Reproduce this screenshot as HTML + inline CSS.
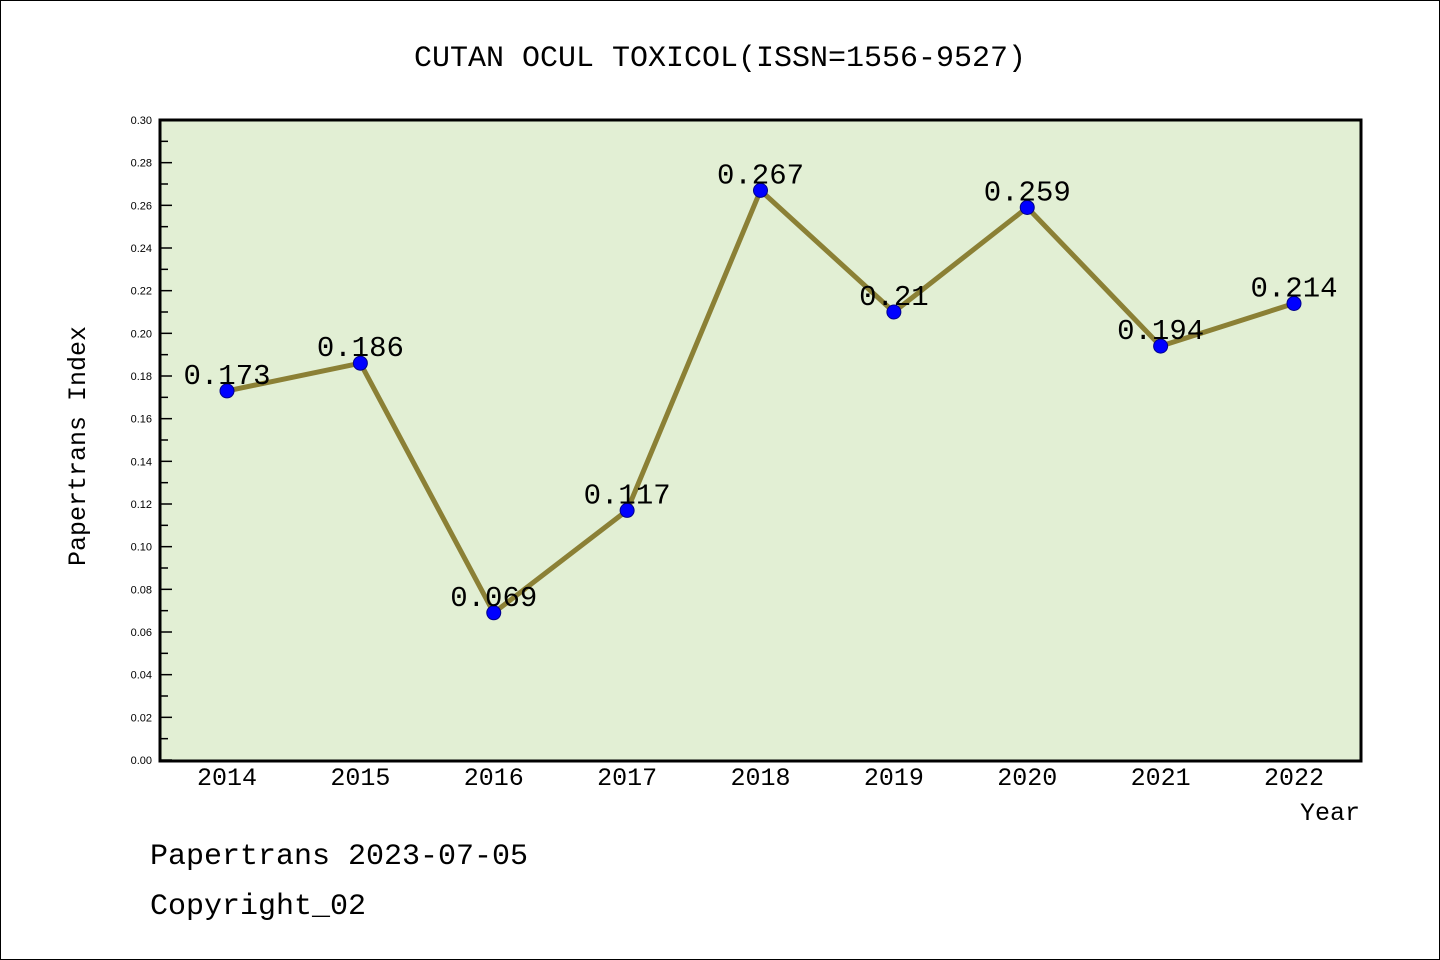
<!DOCTYPE html>
<html><head><meta charset="utf-8"><style>
html,body{margin:0;padding:0;background:#fff}
svg{display:block}
text{font-family:"Liberation Mono","WenQuanYi Zen Hei",monospace}
</style></head><body>
<svg id="c" width="1440" height="960" xmlns="http://www.w3.org/2000/svg">
<rect x="0.5" y="0.5" width="1439" height="959" fill="#fff" stroke="#000"/>
<text x="720" y="66" font-size="30" text-anchor="middle">CUTAN OCUL TOXICOL(ISSN=1556-9527)</text>
<rect x="160" y="120" width="1201" height="641" fill="#e2efd4"/>
<g id="ticks"></g>
<g id="marks"></g>
<rect x="160" y="120" width="1201" height="641" fill="none" stroke="#000" stroke-width="3"/>
<text x="85" y="446" font-size="25" text-anchor="middle" transform="rotate(-90 85 446)">Papertrans Index</text>
<text x="1360" y="820" font-size="25" text-anchor="end">Year</text>
<text x="150" y="864" font-size="30">Papertrans 2023-07-05</text>
<text x="150" y="914" font-size="30">Copyright_02</text>
</svg>
<script>
const years = ["2014","2015","2016","2017","2018","2019","2020","2021","2022"];
const values = [0.173,0.186,0.069,0.117,0.267,0.21,0.259,0.194,0.214];
const valueLabels = ["0.173","0.186","0.069","0.117","0.267","0.21","0.259","0.194","0.214"];
const yTicks = [0,0.02,0.04,0.06,0.08,0.10,0.12,0.14,0.16,0.18,0.20,0.22,0.24,0.26,0.28,0.30];

const NS="http://www.w3.org/2000/svg";
const X=i=>227+i*(1294-227)/(years.length-1);
const Y=v=>760-v/0.30*640;
function mk(t,a,p){const e=document.createElementNS(NS,t);for(const k in a)e.setAttribute(k,a[k]);p.appendChild(e);return e;}
const tg=document.getElementById('ticks'), mg=document.getElementById('marks');
for(let k=0;k<=30;k++){
  const y=Y(k*0.01);
  const major=k%2===0;
  const l=mk('line',{x1:160,x2:160+(major?12:8),y1:y,y2:y,stroke:'#000','stroke-width':1.5},tg);
  
  
}
yTicks.forEach(v=>{
  const t=mk('text',{x:152,y:Y(v)+4,'font-size':11,'text-anchor':'end',style:'font-family:"Liberation Sans",sans-serif'},tg);
  t.textContent=v.toFixed(2);
  
  
});
years.forEach((yr,i)=>{
  const t=mk('text',{x:X(i),y:785,'font-size':25,'text-anchor':'middle'},tg);
  t.textContent=yr;
  
  
});
const pl=mk('polyline',{points:values.map((v,i)=>X(i)+','+Y(v)).join(' '),fill:'none',stroke:'#8b8035','stroke-width':5,'stroke-linejoin':'round'},mg);


values.forEach((v,i)=>{
  const c=mk('circle',{cx:X(i),cy:Y(v),r:7,fill:'#0000ff',stroke:'#00008b','stroke-width':1},mg);
  
  
  const t=mk('text',{x:X(i),y:Y(v)-7,'font-size':29,'text-anchor':'middle'},mg);
  t.textContent=valueLabels[i];
  
  
});
</script>
</body></html>
